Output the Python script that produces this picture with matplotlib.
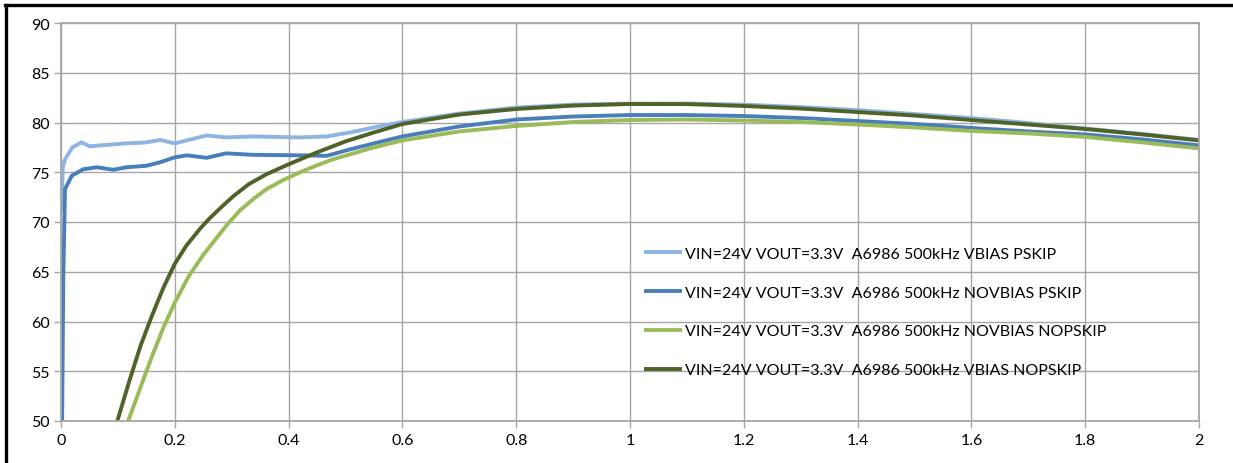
import matplotlib
matplotlib.use("Agg")
import matplotlib.pyplot as plt
from matplotlib.lines import Line2D

# ---- data ----
labels = [
    "VIN=24V VOUT=3.3V  A6986 500kHz VBIAS PSKIP",
    "VIN=24V VOUT=3.3V  A6986 500kHz NOVBIAS PSKIP",
    "VIN=24V VOUT=3.3V  A6986 500kHz NOVBIAS NOPSKIP",
    "VIN=24V VOUT=3.3V  A6986 500kHz VBIAS NOPSKIP",
]
colors = ["#8db4e2", "#4a7ebb", "#9bbb59", "#4f6228"]

x_vbias_pskip = [0.001, 0.003, 0.007, 0.02, 0.036, 0.051, 0.069, 0.115, 0.15, 0.174, 0.2,
                 0.256, 0.29, 0.338, 0.42, 0.467, 0.508, 0.55, 0.6, 0.7, 0.8, 0.9, 1.0, 1.1,
                 1.2, 1.3, 1.4, 1.5, 1.6, 1.7, 1.8, 1.9, 2.0]
y_vbias_pskip = [71.0, 75.5, 76.3, 77.5, 78.0, 77.6, 77.7, 77.9, 78.0, 78.25, 77.9,
                 78.7, 78.5, 78.6, 78.5, 78.6, 79.0, 79.5, 80.05, 80.9, 81.5, 81.8, 81.9, 81.9,
                 81.8, 81.55, 81.25, 80.85, 80.45, 79.95, 79.4, 78.85, 78.25]

x_novbias_pskip = [0.002, 0.004, 0.007, 0.019, 0.039, 0.063, 0.092, 0.115, 0.15, 0.174, 0.2,
                   0.221, 0.256, 0.29, 0.338, 0.42, 0.467, 0.508, 0.55, 0.6, 0.7, 0.8, 0.9,
                   1.0, 1.1, 1.2, 1.3, 1.4, 1.5, 1.6, 1.7, 1.8, 1.9, 2.0]
y_novbias_pskip = [50.0, 64.3, 73.3, 74.65, 75.3, 75.5, 75.25, 75.5, 75.65, 76.0, 76.5,
                   76.7, 76.45, 76.9, 76.75, 76.7, 76.65, 77.3, 77.9, 78.6, 79.6, 80.3, 80.6,
                   80.75, 80.75, 80.65, 80.45, 80.15, 79.85, 79.45, 79.1, 78.8, 78.3, 77.7]

x_novbias_nopskip = [0.118, 0.145, 0.16, 0.18, 0.2, 0.224, 0.25, 0.268, 0.29, 0.315, 0.34,
                     0.361, 0.39, 0.42, 0.45, 0.478, 0.508, 0.55,
                     0.6, 0.7, 0.8, 0.9, 1.0, 1.1, 1.2, 1.3, 1.4, 1.5, 1.6, 1.7, 1.8, 1.9, 2.0]
y_novbias_nopskip = [50.0, 54.2, 56.5, 59.4, 61.9, 64.5, 66.7, 68.0, 69.6, 71.2, 72.4,
                     73.3, 74.2, 75.0, 75.7, 76.3, 76.8, 77.5,
                     78.2, 79.1, 79.65, 80.05, 80.25, 80.3, 80.2, 80.05, 79.8, 79.5, 79.15, 78.9, 78.55, 78.0, 77.4]

x_vbias_nopskip = [0.099, 0.12, 0.14, 0.16, 0.18, 0.2, 0.22, 0.244, 0.26, 0.28, 0.303, 0.33,
                   0.361, 0.4, 0.45, 0.5, 0.55,
                   0.6, 0.7, 0.8, 0.9, 1.0, 1.1, 1.2, 1.3, 1.4, 1.5, 1.6, 1.7, 1.8, 1.9, 2.0]
y_vbias_nopskip = [50.0, 54.0, 57.6, 60.6, 63.4, 65.8, 67.6, 69.3, 70.3, 71.4, 72.6, 73.8,
                   74.8, 75.8, 77.0, 78.1, 79.0,
                   79.85, 80.8, 81.36, 81.7, 81.86, 81.85, 81.66, 81.4, 81.05, 80.7, 80.25, 79.8, 79.35, 78.8, 78.2]

series_x = [x_vbias_pskip, x_novbias_pskip, x_novbias_nopskip, x_vbias_nopskip]
series_y = [y_vbias_pskip, y_novbias_pskip, y_novbias_nopskip, y_vbias_nopskip]

x_ticks = [0, 0.2, 0.4, 0.6, 0.8, 1.0, 1.2, 1.4, 1.6, 1.8, 2.0]
x_ticklabels = ["0", "0.2", "0.4", "0.6", "0.8", "1", "1.2", "1.4", "1.6", "1.8", "2"]
y_ticks = [50, 55, 60, 65, 70, 75, 80, 85, 90]

title = r"Figure 4: Efficiency vs. Output Current, f$_{\mathbf{SW}}$ = 500 kHz, V$_{\mathbf{IN}}$ = 24 V, V$_{\mathbf{OUT}}$ = 3.3 V"

# ---- figure ----
plt.rcParams['font.family'] = ['Lato', 'DejaVu Sans']
W, H = 1233, 464
fig = plt.figure(figsize=(W / 100, H / 100), dpi=100)
ax = fig.add_axes([61 / W, 1 - 422 / H, (1199 - 61) / W, (422 - 24) / H])

grid_c = "#a6a6a6"
for xs, ys, c, lab in zip(series_x, series_y, colors, labels):
    ax.plot(xs, ys, color=c, lw=2.8, label=lab, solid_capstyle='butt', solid_joinstyle='round')

ax.set_xlim(0, 2)
ax.set_ylim(50, 90)
ax.set_xticks(x_ticks)
ax.set_xticklabels(x_ticklabels)
ax.set_yticks(y_ticks)
ax.grid(True, color=grid_c, lw=1.0)
ax.set_axisbelow(True)
for s in ax.spines.values():
    s.set_color(grid_c)
    s.set_linewidth(1.3)
ax.tick_params(axis='both', colors=grid_c, labelcolor='black', labelsize=11.5, length=5, width=1)
ax.tick_params(axis='x', pad=4)
ax.tick_params(axis='y', pad=3)

leg = ax.legend(loc='upper left', bbox_to_anchor=((638 - 61) / 1138, 1 - 217 / 398), frameon=False,
                fontsize=11.5, handlelength=2.35, handletextpad=0.2, labelspacing=1.55,
                borderaxespad=0)

# frame lines of the page
fig.add_artist(Line2D([5 / W, 1], [1 - 6 / H, 1 - 6 / H], color='black', lw=2.4,
                      transform=fig.transFigure))
fig.add_artist(Line2D([6 / W, 6 / W], [0, 1 - 6 / H], color='black', lw=2.4,
                      transform=fig.transFigure))

# clipped title (only its lower part visible, as in the reference)
fig.text(50 / W, 1 + 4.5 / H, title, fontsize=21, fontweight='bold', ha='left', va='baseline')

fig.savefig("out.png", dpi=100)
